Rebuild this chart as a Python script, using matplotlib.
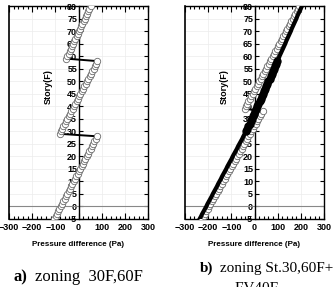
import numpy as np
import matplotlib
matplotlib.use("Agg")
from matplotlib import pyplot as plt
from matplotlib.ticker import MultipleLocator

plt.rcParams['font.family'] = ['Liberation Sans', 'DejaVu Sans']

# stories -5 .. 80
floors = list(range(-5, 81))

# a) zoning 30F,60F  (open circles, one value per floor)
dp_a = [-105, -99, -94, -88, -83, -77, -71, -66, -60, -55, -49, -43, -38, -32, -27, -21, -15,
        -10, -4, 1, 7, 13, 18, 24, 29, 35, 41, 46, 52, 57, 63, 69, 74, 80,
        -82, -76, -71, -65, -59, -54, -48, -42, -37, -31, -25, -20, -14, -8, -3, 3, 8, 14, 20,
        25, 31, 37, 42, 48, 54, 59, 65, 71, 76, 82,
        -53, -48, -43, -38, -33, -28, -23, -18, -13, -8, -3, 2, 7, 12, 17, 22, 27, 32, 37, 42, 47, 52]

# b) zoning St.30,60F+EV40F  (open circles)
dp_b_open = [-226, -220, -214, -208, -202, -196, -190, -184, -177, -171, -165, -159, -153, -147,
             -141, -135, -129, -123, -117, -111, -105, -99, -92, -86, -80, -74, -68, -62, -56,
             -50, -44, -38, -32, -26, -20, -14, -7, -1, 5, 11, 17, 23, 29, 35,
             -43, -37, -31, -26, -20, -14, -8, -2, 3, 9, 15, 21, 26, 32, 38, 44, 49, 55, 61, 67,
             73, 78, 84, 90, 96, 101, 107, 113, 119, 124, 130, 136, 142, 148, 153, 159, 165, 171,
             176, 182, 188, 194]

# b) black series
dp_b_black = [-237, -231, -226, -220, -214, -208, -203, -197, -191, -185, -180, -174, -168, -162,
              -157, -151, -145, -140, -134, -128, -122, -117, -111, -105, -99, -94, -88, -82, -76,
              -71, -65, -59, -53, -48, -42, -36,
              -31, -26, -21, -17, -12, -7, -2, 3, 8, 12, 17, 22, 27, 32, 36, 41, 46, 51, 56, 60,
              65, 70, 75, 80, 84, 89, 94, 99, 104, 108, 113, 118, 123, 128, 133, 137, 142, 147,
              152, 157, 161, 166, 171, 176, 181, 185, 190, 195, 200, 205]
black_dots = list(range(35, 64))   # floors 30..58 drawn as filled dots

fig = plt.figure(figsize=(3.35, 2.87), dpi=100)
ax1 = fig.add_axes([9/335, 68/287, 139/335, 213/287])
ax2 = fig.add_axes([185/335, 68/287, 139/335, 213/287])


def style(ax):
    ax.set_xlim(-300, 300)
    ax.set_ylim(-5, 80)
    ax.spines['left'].set_position(('data', 0))
    ax.axvline(-300, color='k', lw=1.2, clip_on=False, zorder=5)
    for s in ax.spines.values():
        s.set_linewidth(1.0)
    ax.xaxis.set_major_locator(MultipleLocator(100))
    ax.xaxis.set_minor_locator(MultipleLocator(20))
    ax.yaxis.set_major_locator(MultipleLocator(5))
    ax.tick_params(axis='x', which='both', direction='in', top=True, bottom=True, width=0.8)
    ax.tick_params(axis='x', which='major', length=4, pad=3)
    ax.tick_params(axis='x', which='minor', length=2)
    ax.tick_params(axis='y', which='major', direction='in', left=True, right=True,
                   length=3, width=0.8, pad=1)
    for lab in ax.get_xticklabels() + ax.get_yticklabels():
        lab.set_fontweight('bold')
        lab.set_fontsize(6.5)
    ax.grid(True, color='#ececec', lw=0.5)
    ax.set_axisbelow(True)
    ax.axhline(0, color='#888888', lw=0.8, zorder=1)
    ax.set_xlabel('Pressure difference (Pa)', fontsize=5.8, fontweight='bold', labelpad=6)
    ax.text(0.28, 0.62, 'Story(F)', transform=ax.transAxes, rotation=90, fontsize=6.5,
            fontweight='bold', ha='center', va='center')


style(ax1)
style(ax2)

ax1.plot(dp_a, floors, color='k', lw=1.4, marker='o', ms=4.6, mfc='white', mec='#6a6a6a',
         mew=0.6, zorder=3)

ax2.plot(dp_b_open, floors, color='k', lw=1.4, marker='o', ms=4.6, mfc='white', mec='#6a6a6a',
         mew=0.6, zorder=3)
ax2.plot(dp_b_black, floors, color='k', lw=3.0, marker='o', ms=5.0, mfc='k', mec='k',
         markevery=black_dots, zorder=4)

fig.text(13/335, 6/287, 'a)', fontsize=12, fontweight='bold', family='Liberation Serif')
fig.text(35/335, 6/287, 'zoning  30F,60F', fontsize=12, family='Liberation Serif')
fig.text(200/335, 15/287, 'b)', fontsize=11, fontweight='bold', family='Liberation Serif')
fig.text(220/335, 15/287, 'zoning St.30,60F+', fontsize=11, family='Liberation Serif')
fig.text(257/335, -5/287, 'EV40F', fontsize=11, family='Liberation Serif', ha='center')

fig.savefig('out.png', dpi=100)
